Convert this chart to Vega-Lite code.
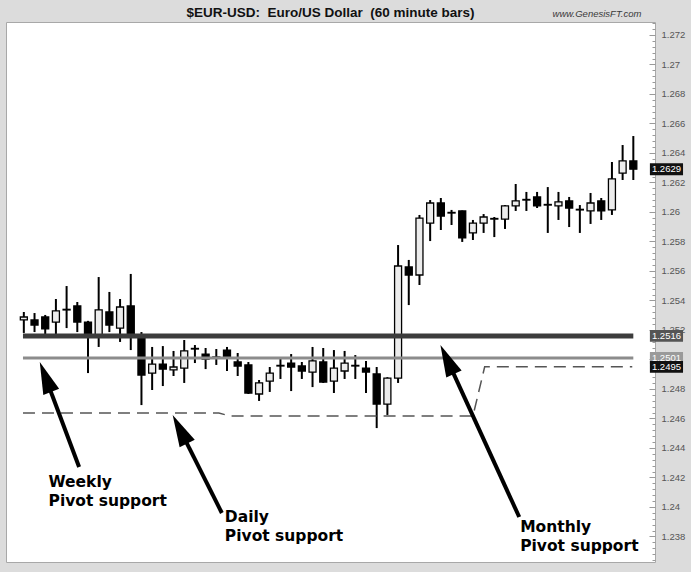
{
  "$schema": "https://vega.github.io/schema/vega-lite/v6.json",
  "autosize": {"type": "none"},
  "padding": {"left": 6, "top": 22, "right": 36, "bottom": 10},
  "width": 649,
  "height": 540,
  "background": "#dcdcdc",
  "config": {"view": {"stroke": "#a8a8a8", "fill": "white"}, "axis": {"labelOverlap": false}},
  "title": {"text": "$EUR-USD:\u00a0 Euro/US Dollar\u00a0 (60 minute bars)", "font": "Liberation Sans", "fontSize": 13.5, "fontWeight": "bold", "color": "#111111", "anchor": "middle", "offset": -10},
  "datasets": {
    "candles": [
      {"i":1,"o":1.25268,"h":1.25322,"l":1.25180,"c":1.25288},
      {"i":2,"o":1.25268,"h":1.25315,"l":1.25186,"c":1.25234},
      {"i":3,"o":1.25288,"h":1.25302,"l":1.25152,"c":1.25207},
      {"i":4,"o":1.25254,"h":1.25410,"l":1.25173,"c":1.25329},
      {"i":5,"o":1.25336,"h":1.25498,"l":1.25213,"c":1.25340},
      {"i":6,"o":1.25363,"h":1.25390,"l":1.25186,"c":1.25254},
      {"i":7,"o":1.25254,"h":1.25262,"l":1.24908,"c":1.25159},
      {"i":8,"o":1.25159,"h":1.25559,"l":1.25085,"c":1.25336},
      {"i":9,"o":1.25322,"h":1.25458,"l":1.25186,"c":1.25234},
      {"i":10,"o":1.25213,"h":1.25410,"l":1.25119,"c":1.25356},
      {"i":11,"o":1.25363,"h":1.25580,"l":1.25064,"c":1.25166},
      {"i":12,"o":1.25159,"h":1.25186,"l":1.24691,"c":1.24895},
      {"i":13,"o":1.24908,"h":1.25085,"l":1.24793,"c":1.24969},
      {"i":14,"o":1.24969,"h":1.25091,"l":1.24820,"c":1.24935},
      {"i":15,"o":1.24929,"h":1.25058,"l":1.24888,"c":1.24949},
      {"i":16,"o":1.24942,"h":1.25132,"l":1.24841,"c":1.25058},
      {"i":17,"o":1.25071,"h":1.25098,"l":1.24976,"c":1.25075},
      {"i":18,"o":1.25037,"h":1.25078,"l":1.24935,"c":1.25003},
      {"i":19,"o":1.25017,"h":1.25071,"l":1.24963,"c":1.25013},
      {"i":20,"o":1.25064,"h":1.25085,"l":1.24922,"c":1.25010},
      {"i":21,"o":1.24983,"h":1.25044,"l":1.24888,"c":1.24956},
      {"i":22,"o":1.24963,"h":1.24983,"l":1.24766,"c":1.24773},
      {"i":23,"o":1.24766,"h":1.24861,"l":1.24719,"c":1.24841},
      {"i":24,"o":1.24854,"h":1.24949,"l":1.24780,"c":1.24908},
      {"i":25,"o":1.24956,"h":1.25017,"l":1.24868,"c":1.24960},
      {"i":26,"o":1.24976,"h":1.25037,"l":1.24786,"c":1.24949},
      {"i":27,"o":1.24956,"h":1.24983,"l":1.24868,"c":1.24922},
      {"i":28,"o":1.24915,"h":1.25085,"l":1.24813,"c":1.24990},
      {"i":29,"o":1.24983,"h":1.25078,"l":1.24841,"c":1.24847},
      {"i":30,"o":1.24854,"h":1.25064,"l":1.24773,"c":1.24942},
      {"i":31,"o":1.24922,"h":1.25058,"l":1.24868,"c":1.24976},
      {"i":32,"o":1.24956,"h":1.25030,"l":1.24868,"c":1.24960},
      {"i":33,"o":1.24942,"h":1.24990,"l":1.24773,"c":1.24915},
      {"i":34,"o":1.24902,"h":1.24949,"l":1.24535,"c":1.24698},
      {"i":35,"o":1.24698,"h":1.24880,"l":1.24624,"c":1.24874},
      {"i":36,"o":1.24874,"h":1.25776,"l":1.24841,"c":1.25634},
      {"i":37,"o":1.25627,"h":1.25675,"l":1.25369,"c":1.25573},
      {"i":38,"o":1.25573,"h":1.25980,"l":1.25505,"c":1.25959},
      {"i":39,"o":1.25925,"h":1.26081,"l":1.25803,"c":1.26061},
      {"i":40,"o":1.26061,"h":1.26095,"l":1.25878,"c":1.25973},
      {"i":41,"o":1.25993,"h":1.26014,"l":1.25912,"c":1.25997},
      {"i":42,"o":1.26007,"h":1.26010,"l":1.25797,"c":1.25824},
      {"i":43,"o":1.25858,"h":1.25946,"l":1.25810,"c":1.25925},
      {"i":44,"o":1.25925,"h":1.25986,"l":1.25858,"c":1.25966},
      {"i":45,"o":1.25952,"h":1.25966,"l":1.25830,"c":1.25956},
      {"i":46,"o":1.25952,"h":1.26047,"l":1.25885,"c":1.26041},
      {"i":47,"o":1.26041,"h":1.26190,"l":1.26007,"c":1.26075},
      {"i":48,"o":1.26081,"h":1.26136,"l":1.26007,"c":1.26085},
      {"i":49,"o":1.26102,"h":1.26136,"l":1.26027,"c":1.26041},
      {"i":50,"o":1.26047,"h":1.26169,"l":1.25858,"c":1.26051},
      {"i":51,"o":1.26041,"h":1.26136,"l":1.25946,"c":1.26068},
      {"i":52,"o":1.26075,"h":1.26102,"l":1.25898,"c":1.26027},
      {"i":53,"o":1.26014,"h":1.26047,"l":1.25858,"c":1.26018},
      {"i":54,"o":1.26007,"h":1.26129,"l":1.25919,"c":1.26061},
      {"i":55,"o":1.26075,"h":1.26095,"l":1.25946,"c":1.26007},
      {"i":56,"o":1.26014,"h":1.26339,"l":1.25980,"c":1.26224},
      {"i":57,"o":1.26264,"h":1.26454,"l":1.26217,"c":1.26346},
      {"i":58,"o":1.26346,"h":1.26515,"l":1.26217,"c":1.2629}
    ],
    "levels": [
      {"name": "weekly", "start": 0.92, "end": 58.0, "price": 1.2516},
      {"name": "mid", "start": 0.92, "end": 58.0, "price": 1.2501}
    ],
    "dailyPivot": [
      {"i": 0.92, "price": 1.24637},
      {"i": 19.24, "price": 1.24637},
      {"i": 20.26, "price": 1.24617},
      {"i": 43.0, "price": 1.24617},
      {"i": 44.1, "price": 1.2495},
      {"i": 57.9, "price": 1.2495}
    ],
    "arrows": [
      {"name": "weekly", "tailX": 6.17, "tailY": 1.242712, "neckX": 3.14, "neckY": 1.248562, "tipX": 2.49, "tipY": 1.24983},
      {"name": "daily", "tailX": 19.52, "tailY": 1.239593, "neckX": 15.76, "neckY": 1.24503, "tipX": 14.92, "tipY": 1.246237},
      {"name": "monthly", "tailX": 47.33, "tailY": 1.239322, "neckX": 40.74, "neckY": 1.249756, "tipX": 39.96, "tipY": 1.250983}
    ],
    "notes": [
      {"txt": "Weekly\nPivot support", "i": 3.31, "price": 1.241356},
      {"txt": "Daily\nPivot support", "i": 19.8, "price": 1.238983},
      {"txt": "Monthly\nPivot support", "i": 47.42, "price": 1.238305}
    ],
    "credit": [
      {"txt": "www.GenesisFT.com", "i": 54.6, "price": 1.273423}
    ],
    "tags": [
      {"kind": "mid", "price": 1.2501, "label": "1.2501"},
      {"kind": "daily", "price": 1.2495, "label": "1.2495"},
      {"kind": "weekly", "price": 1.2516, "label": "1.2516"},
      {"kind": "last", "price": 1.2629, "label": "1.2629"}
    ]
  },
  "layer": [
    {
      "data": {"name": "candles"},
      "mark": {"type": "rule", "color": "#000000", "strokeWidth": 2},
      "encoding": {
        "x": {"field": "i", "type": "quantitative", "scale": {"domain": [-0.2, 59.56], "nice": false, "zero": false}, "axis": null},
        "y": {"field": "l", "type": "quantitative", "scale": {"domain": [1.236271, 1.272881], "nice": false, "zero": false},
          "axis": {
            "orient": "right", "title": null, "domain": false, "grid": false, "tickCount": 400,
            "values": [1.2364,1.2368,1.2372,1.2376,1.238,1.2384,1.2388,1.2392,1.2396,1.24,1.2404,1.2408,1.2412,1.2416,1.242,1.2424,1.2428,1.2432,1.2436,1.244,1.2444,1.2448,1.2452,1.2456,1.246,1.2464,1.2468,1.2472,1.2476,1.248,1.2484,1.2488,1.2492,1.2496,1.25,1.2504,1.2508,1.2512,1.2516,1.252,1.2524,1.2528,1.2532,1.2536,1.254,1.2544,1.2548,1.2552,1.2556,1.256,1.2564,1.2568,1.2572,1.2576,1.258,1.2584,1.2588,1.2592,1.2596,1.26,1.2604,1.2608,1.2612,1.2616,1.262,1.2624,1.2628,1.2632,1.2636,1.264,1.2644,1.2648,1.2652,1.2656,1.266,1.2664,1.2668,1.2672,1.2676,1.268,1.2684,1.2688,1.2692,1.2696,1.27,1.2704,1.2708,1.2712,1.2716,1.272,1.2724,1.2728],
            "labelExpr": "abs(datum.value*500 - round(datum.value*500)) < 0.01 ? format(datum.value, '.3~f') : ''",
            "tickSize": {"condition": {"test": "abs(datum.value*500 - round(datum.value*500)) < 0.01", "value": -6}, "value": -3},
            "labelFontSize": {"condition": {"test": "abs(datum.value*500 - round(datum.value*500)) < 0.01", "value": 9.5}, "value": 0},
            "tickColor": "#9a9a9a",
            "labelColor": "#555555", "labelFont": "Liberation Sans",
            "labelPadding": 12, "labelOverlap": false, "labelFlush": false, "labelBound": false
          }
        },
        "y2": {"field": "h"}
      }
    },
    {
      "data": {"name": "candles"},
      "mark": {"type": "bar", "size": 7, "stroke": "#000000", "strokeWidth": 1.3},
      "encoding": {
        "x": {"field": "i", "type": "quantitative", "scale": {"domain": [-0.2, 59.56], "nice": false, "zero": false}, "axis": null},
        "y": {"field": "o", "type": "quantitative", "scale": {"domain": [1.236271, 1.272881], "nice": false, "zero": false}, "title": null},
        "y2": {"field": "c"},
        "fill": {"condition": {"test": "datum.o < datum.c", "value": "#ececec"}, "value": "#000000"}
      }
    },
    {
      "data": {"name": "levels"},
      "transform": [{"filter": "datum.name === 'mid'"}],
      "mark": {"type": "rule", "color": "#8c8c8c", "strokeWidth": 3},
      "encoding": {
        "x": {"field": "start", "type": "quantitative", "scale": {"domain": [-0.2, 59.56], "nice": false, "zero": false}, "axis": null},
        "x2": {"field": "end"},
        "y": {"field": "price", "type": "quantitative", "scale": {"domain": [1.236271, 1.272881], "nice": false, "zero": false}, "title": null}
      }
    },
    {
      "data": {"name": "levels"},
      "transform": [{"filter": "datum.name === 'weekly'"}],
      "mark": {"type": "rule", "color": "#3c3c3c", "strokeWidth": 5},
      "encoding": {
        "x": {"field": "start", "type": "quantitative", "scale": {"domain": [-0.2, 59.56], "nice": false, "zero": false}, "axis": null},
        "x2": {"field": "end"},
        "y": {"field": "price", "type": "quantitative", "scale": {"domain": [1.236271, 1.272881], "nice": false, "zero": false}, "title": null}
      }
    },
    {
      "data": {"name": "dailyPivot"},
      "mark": {"type": "line", "color": "#555555", "strokeWidth": 1.5, "strokeDash": [12, 7]},
      "encoding": {
        "x": {"field": "i", "type": "quantitative", "scale": {"domain": [-0.2, 59.56], "nice": false, "zero": false}, "axis": null},
        "y": {"field": "price", "type": "quantitative", "scale": {"domain": [1.236271, 1.272881], "nice": false, "zero": false}, "title": null}
      }
    },
    {
      "data": {"name": "arrows"},
      "mark": {"type": "rule", "color": "#000000", "strokeWidth": 4},
      "encoding": {
        "x": {"field": "tailX", "type": "quantitative", "scale": {"domain": [-0.2, 59.56], "nice": false, "zero": false}, "axis": null},
        "x2": {"field": "neckX"},
        "y": {"field": "tailY", "type": "quantitative", "scale": {"domain": [1.236271, 1.272881], "nice": false, "zero": false}, "title": null},
        "y2": {"field": "neckY"}
      }
    },
    {
      "data": {"name": "arrows"},
      "transform": [{"filter": "datum.name === 'weekly'"}],
      "mark": {"type": "point", "shape": "M0,0L0.53,2L-0.53,2Z", "size": 1024, "filled": true, "fill": "#000000", "strokeWidth": 0, "opacity": 1, "angle": 339},
      "encoding": {
        "x": {"field": "tipX", "type": "quantitative", "scale": {"domain": [-0.2, 59.56], "nice": false, "zero": false}, "axis": null},
        "y": {"field": "tipY", "type": "quantitative", "scale": {"domain": [1.236271, 1.272881], "nice": false, "zero": false}, "title": null}
      }
    },
    {
      "data": {"name": "arrows"},
      "transform": [{"filter": "datum.name === 'daily'"}],
      "mark": {"type": "point", "shape": "M0,0L0.53,2L-0.53,2Z", "size": 1024, "filled": true, "fill": "#000000", "strokeWidth": 0, "opacity": 1, "angle": 333},
      "encoding": {
        "x": {"field": "tipX", "type": "quantitative", "scale": {"domain": [-0.2, 59.56], "nice": false, "zero": false}, "axis": null},
        "y": {"field": "tipY", "type": "quantitative", "scale": {"domain": [1.236271, 1.272881], "nice": false, "zero": false}, "title": null}
      }
    },
    {
      "data": {"name": "arrows"},
      "transform": [{"filter": "datum.name === 'monthly'"}],
      "mark": {"type": "point", "shape": "M0,0L0.53,2L-0.53,2Z", "size": 1024, "filled": true, "fill": "#000000", "strokeWidth": 0, "opacity": 1, "angle": 335},
      "encoding": {
        "x": {"field": "tipX", "type": "quantitative", "scale": {"domain": [-0.2, 59.56], "nice": false, "zero": false}, "axis": null},
        "y": {"field": "tipY", "type": "quantitative", "scale": {"domain": [1.236271, 1.272881], "nice": false, "zero": false}, "title": null}
      }
    },
    {
      "data": {"name": "notes"},
      "mark": {"type": "text", "font": "DejaVu Sans", "fontWeight": "bold", "fontSize": 15.5, "align": "left", "baseline": "alphabetic", "lineBreak": "\n", "lineHeight": 19, "color": "#000000"},
      "encoding": {
        "x": {"field": "i", "type": "quantitative", "scale": {"domain": [-0.2, 59.56], "nice": false, "zero": false}, "axis": null},
        "y": {"field": "price", "type": "quantitative", "scale": {"domain": [1.236271, 1.272881], "nice": false, "zero": false}, "title": null},
        "text": {"field": "txt"}
      }
    },
    {
      "data": {"name": "credit"},
      "mark": {"type": "text", "font": "Liberation Sans", "fontStyle": "italic", "fontSize": 9.5, "align": "center", "baseline": "middle", "color": "#3a3a3a"},
      "encoding": {
        "x": {"field": "i", "type": "quantitative", "scale": {"domain": [-0.2, 59.56], "nice": false, "zero": false}, "axis": null},
        "y": {"field": "price", "type": "quantitative", "scale": {"domain": [1.236271, 1.272881], "nice": false, "zero": false}, "title": null},
        "text": {"field": "txt"}
      }
    },
    {
      "data": {"name": "tags"},
      "mark": {"type": "point", "shape": "M-1.4,-0.5H1.4V0.5H-1.4Z", "size": 560, "filled": true, "strokeWidth": 0, "opacity": 1},
      "encoding": {
        "x": {"datum": 61.1, "type": "quantitative", "scale": {"domain": [-0.2, 59.56], "nice": false, "zero": false}, "axis": null},
        "y": {"field": "price", "type": "quantitative", "scale": {"domain": [1.236271, 1.272881], "nice": false, "zero": false}, "title": null},
        "color": {"field": "kind", "type": "nominal", "scale": {"domain": ["weekly", "mid", "daily", "last"], "range": ["#555555", "#9a9a9a", "#111111", "#111111"]}, "legend": null}
      }
    },
    {
      "data": {"name": "tags"},
      "mark": {"type": "text", "font": "Liberation Sans", "fontSize": 9.5, "align": "center", "baseline": "middle", "color": "#ffffff"},
      "encoding": {
        "x": {"datum": 61.1, "type": "quantitative", "scale": {"domain": [-0.2, 59.56], "nice": false, "zero": false}, "axis": null},
        "y": {"field": "price", "type": "quantitative", "scale": {"domain": [1.236271, 1.272881], "nice": false, "zero": false}, "title": null},
        "text": {"field": "label"}
      }
    }
  ]
}
